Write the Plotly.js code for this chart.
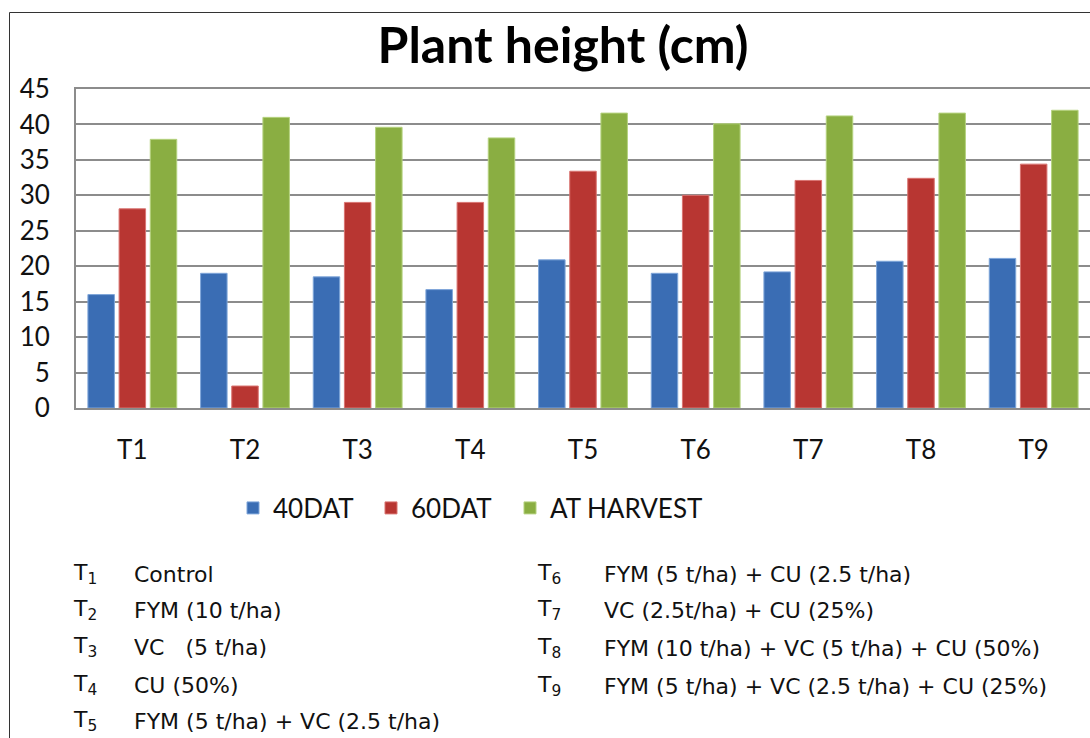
<!DOCTYPE html>
<html>
<head>
<meta charset="utf-8">
<script src="https://cdn.plot.ly/plotly-3.0.1.min.js"></script>
<style>
  html, body { margin: 0; padding: 0; background: #fff; overflow: hidden; }
  #chart { width: 1090px; height: 738px; }
</style>
</head>
<body>
<div id="chart"></div>
<script>
// ---- data ----
const categories = ["T1", "T2", "T3", "T4", "T5", "T6", "T7", "T8", "T9"];
const seriesNames = ["40DAT", "60DAT", "AT HARVEST"];
const dat40 = [16.0, 19.0, 18.5, 16.7, 20.9, 19.0, 19.2, 20.7, 21.1];
const dat60 = [28.1, 3.1, 29.0, 29.0, 33.4, 30.0, 32.1, 32.4, 34.4];
const harvest = [37.9, 41.0, 39.6, 38.1, 41.6, 40.1, 41.2, 41.6, 42.0];
const yTicks = [0, 5, 10, 15, 20, 25, 30, 35, 40, 45];
const treatmentCodes = ["1", "2", "3", "4", "5", "6", "7", "8", "9"];
const treatmentLabels = [
  "Control",
  "FYM (10 t/ha)",
  "VC   (5 t/ha)",
  "CU (50%)",
  "FYM (5 t/ha) + VC (2.5 t/ha)",
  "FYM (5 t/ha) + CU (2.5 t/ha)",
  "VC (2.5t/ha) + CU (25%)",
  "FYM (10 t/ha) + VC (5 t/ha) + CU (50%)",
  "FYM (5 t/ha) + VC (2.5 t/ha) + CU (25%)"
];

// ---- layout geometry ----
const W = 1090, H = 738;
const M = { l: 76, r: 0, t: 89, b: 330 };
const plotW = W - M.l - M.r, plotH = H - M.t - M.b;
const px2x = px => (px - M.l) / plotW;
const py2y = py => (H - M.b - py) / plotH;

const colors = ["#3A6DB4", "#B83632", "#8AAE42"];
const edge = ["#7FA6DA", "#D97471", "#B5D27F"];
const values = [dat40, dat60, harvest];
const legendIds = ["legend", "legend2", "legend3"];
const legendLeftPx = [233, 371, 510];

const traces = values.map((v, i) => ({
  type: "bar",
  name: seriesNames[i],
  x: categories,
  y: v,
  legend: legendIds[i],
  marker: { color: colors[i], line: { color: edge[i], width: 1 } },
  hoverinfo: "x+y+name"
}));

// treatment key annotations
const annotations = [];
const leftRows = [574, 610, 647, 685, 721];
const rightRows = [574, 610, 648, 686];
const keyFont = { family: "DejaVu Sans, Liberation Sans, sans-serif", size: 22, color: "#111" };
treatmentLabels.forEach((lab, i) => {
  const left = i < 5;
  const py = left ? leftRows[i] : rightRows[i - 5];
  const codeX = left ? 71 : 535;
  const textX = left ? 132 : 602;
  annotations.push({
    xref: "paper", yref: "paper", x: px2x(codeX), y: py2y(py),
    xanchor: "left", yanchor: "middle", showarrow: false,
    width: 40, height: 30, align: "left", valign: "middle",
    text: "T<sub>" + treatmentCodes[i] + "</sub>", font: keyFont
  });
  annotations.push({
    xref: "paper", yref: "paper", x: px2x(textX), y: py2y(py),
    xanchor: "left", yanchor: "middle", showarrow: false,
    width: 470, height: 30, align: "left", valign: "middle",
    text: lab, font: keyFont
  });
});

const legendBase = {
  orientation: "h",
  xref: "paper", xanchor: "left",
  yref: "container", y: 1 - 508 / H, yanchor: "middle",
  font: { family: "Lato, sans-serif", size: 26, color: "#111" },
  bgcolor: "rgba(0,0,0,0)"
};

const layout = {
  width: W, height: H,
  margin: M,
  paper_bgcolor: "#ffffff",
  plot_bgcolor: "#ffffff",
  barmode: "group",
  bargap: 0.17,
  bargroupgap: 0.15,
  font: { family: "Lato, Open Sans, sans-serif", color: "#111" },
  title: {
    text: "<b>Plant height (cm)</b>",
    font: { family: "Lato, Open Sans, sans-serif", size: 50, color: "#000" },
    xref: "container", yref: "container",
    x: 563 / W, xanchor: "center",
    y: 1 - 45 / H, yanchor: "middle"
  },
  xaxis: {
    type: "category",
    range: [-0.5, 8.5],
    showline: true, linecolor: "#8c8c8c", linewidth: 2,
    mirror: true,
    showgrid: false,
    ticks: "", ticklabelstandoff: 18,
    tickfont: { family: "Lato, sans-serif", size: 26, color: "#111" },
    fixedrange: true
  },
  yaxis: {
    range: [0, 45],
    tickvals: yTicks,
    ticktext: yTicks.map(String),
    showline: true, linecolor: "#8c8c8c", linewidth: 2,
    mirror: true,
    showgrid: true, gridcolor: "#8c8c8c", gridwidth: 2,
    zeroline: false,
    ticks: "", ticklabelstandoff: 19,
    tickfont: { family: "Lato, sans-serif", size: 26, color: "#111" },
    fixedrange: true
  },
  showlegend: true,
  legend: Object.assign({}, legendBase, { x: px2x(legendLeftPx[0]) }),
  legend2: Object.assign({}, legendBase, { x: px2x(legendLeftPx[1]) }),
  legend3: Object.assign({}, legendBase, { x: px2x(legendLeftPx[2]) }),
  shapes: [{
    type: "rect", xref: "paper", yref: "paper",
    x0: px2x(9.5), x1: px2x(1200), y0: py2y(900), y1: py2y(12.5),
    line: { color: "#333", width: 1 }, fillcolor: "rgba(0,0,0,0)", layer: "above"
  }],
  annotations: annotations
};

Plotly.newPlot("chart", traces, layout, { displayModeBar: false, responsive: false });
</script>
</body>
</html>
